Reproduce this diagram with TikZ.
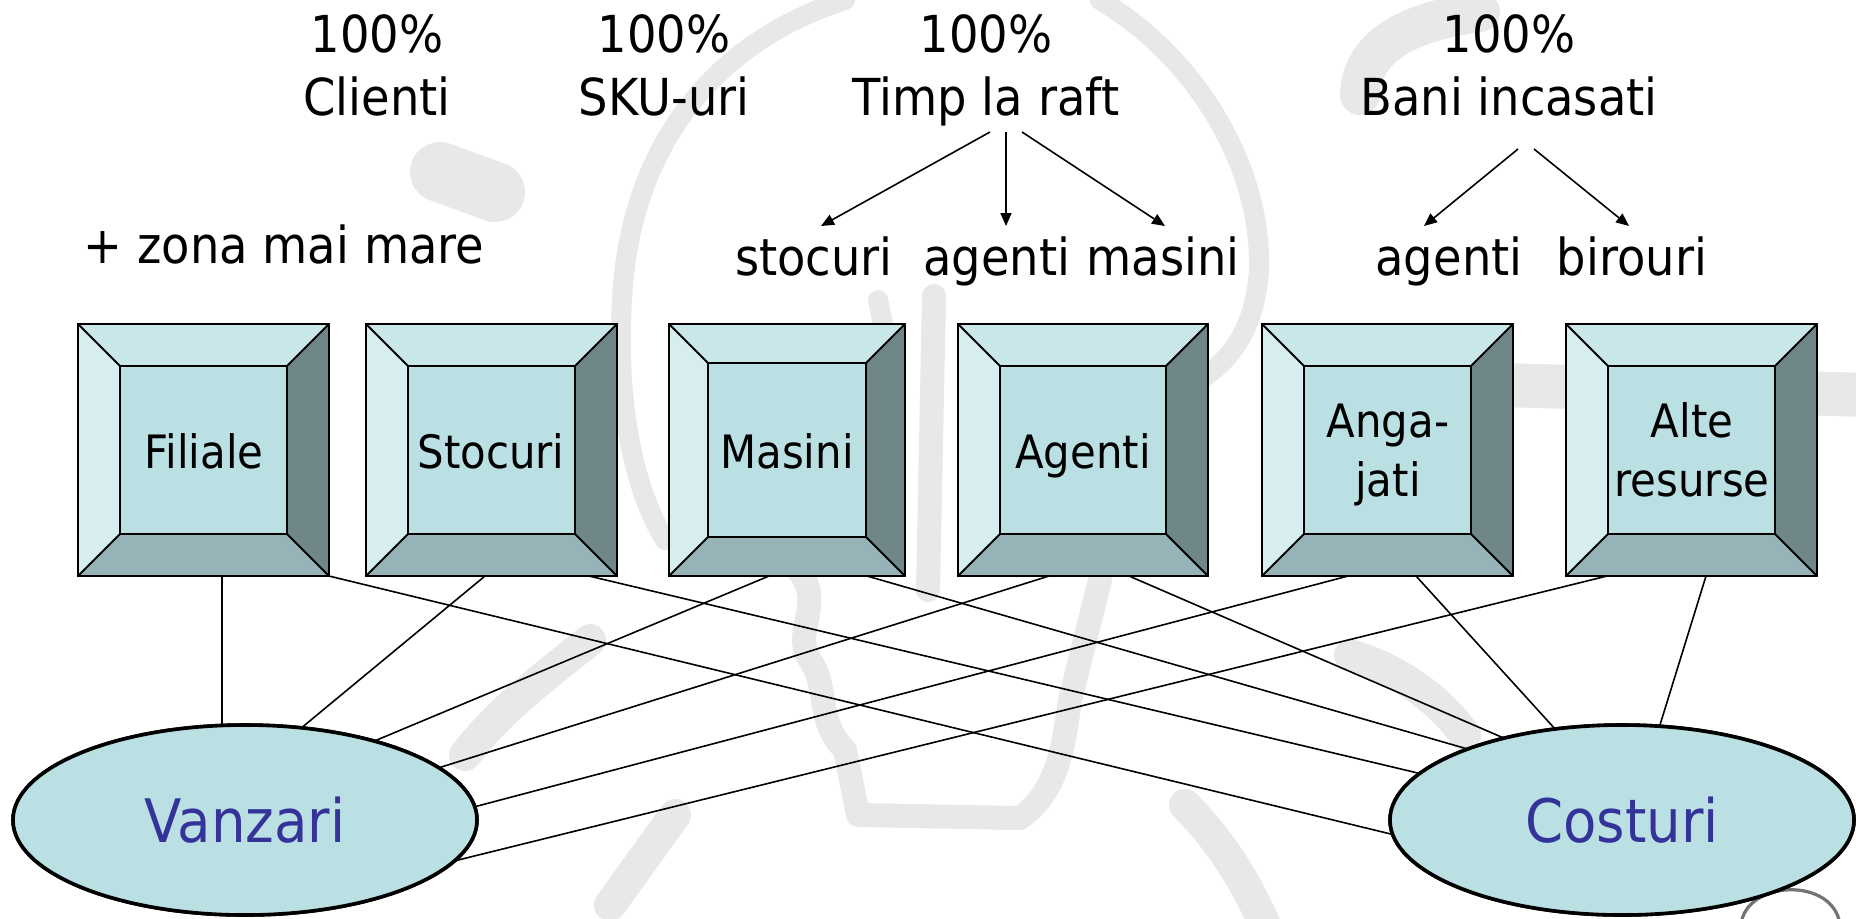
\documentclass[tikz,border=0pt]{standalone}
\usepackage{fontspec}
\setmainfont{DejaVu Sans}[FakeStretch=0.91]
\usetikzlibrary{arrows.meta,calc,shapes.geometric}

\definecolor{bvTop}{HTML}{C9E6E9}
\definecolor{bvLeft}{HTML}{D8EDF0}
\definecolor{bvFace}{HTML}{BAE0E3}
\definecolor{bvBottom}{HTML}{96B4B7}
\definecolor{bvRight}{HTML}{708789}
\definecolor{ovalText}{HTML}{333399}
\definecolor{sketch}{HTML}{E8E8E8}

% bevelled button: #1 name, #2 left x, #3 right x, #4 bevel depth (top 324, bottom 576)
\newcommand\bevelbox[4]{%
  \fill[bvTop] (#2,324) -- (#3,324) -- ({#3-#4},{324+#4}) -- ({#2+#4},{324+#4}) -- cycle;
  \fill[bvLeft] (#2,324) -- ({#2+#4},{324+#4}) -- ({#2+#4},{576-#4}) -- (#2,576) -- cycle;
  \fill[bvRight] (#3,324) -- (#3,576) -- ({#3-#4},{576-#4}) -- ({#3-#4},{324+#4}) -- cycle;
  \fill[bvBottom] (#2,576) -- (#3,576) -- ({#3-#4},{576-#4}) -- ({#2+#4},{576-#4}) -- cycle;
  \fill[bvFace] ({#2+#4},{324+#4}) rectangle ({#3-#4},{576-#4});
  \draw[bevelline] ({#2+#4},{324+#4}) rectangle ({#3-#4},{576-#4});
  \draw[bevelline] (#2,324) -- ({#2+#4},{324+#4}) (#3,324) -- ({#3-#4},{324+#4})
                   (#2,576) -- ({#2+#4},{576-#4}) (#3,576) -- ({#3-#4},{576-#4});
  \draw[bevelline] (#2,324) rectangle (#3,576);
  \node[rectangle, minimum width={(#3-#2)*0.5pt}, minimum height=126pt] (#1) at ({(#2+#3)/2},450) {};
}

\begin{document}
\begin{tikzpicture}[x=0.5pt,y=-0.5pt,
  every node/.style={inner sep=0pt, outer sep=0pt},
  toptext/.style={font=\fontsize{25.5}{31.5}\selectfont, align=center, anchor=north},
  word/.style={font=\fontsize{25.5}{31.5}\selectfont, anchor=base},
  boxtext/.style={font=\fontsize{23}{29.5}\selectfont, align=center},
  oval/.style={ellipse, draw=black, line width=1.8pt, fill=bvFace,
    minimum width=232pt, minimum height=95pt,
    font=\fontsize{30}{36}\selectfont, text=ovalText},
  bevelline/.style={draw=black, line width=1pt, line join=miter},
  link/.style={line width=0.8pt},
  pointer/.style={line width=0.8pt, -{Triangle[length=6.5pt,width=5.5pt]}},
  sketchline/.style={draw=sketch, line cap=round, line join=round, line width=10pt}
]
\fill[white] (0,0) rectangle (1856,918);
\useasboundingbox (0,0) rectangle (1856,918);

% faint background sketch
\draw[sketchline] (845,0) .. controls (720,40) and (630,140) .. (622,300) .. controls (615,420) and (640,500) .. (665,540);
\draw[sketchline] (1100,0) .. controls (1200,60) and (1262,170) .. (1259,270) .. controls (1255,330) and (1230,360) .. (1200,380);
\draw[sketchline, line width=30pt] (440,172) -- (495,192);
\draw[sketchline, line width=20pt] (1480,12) .. controls (1420,20) and (1362,40) .. (1360,95);
\draw[sketchline, line width=10pt] (878,300) -- (884,330);
\draw[sketchline, line width=12pt] (934,296) -- (928,590);
\draw[sketchline, line width=12pt] (793,565) .. controls (830,600) and (790,630) .. (810,660)
  .. controls (830,690) and (815,720) .. (845,750) -- (858,815) -- (1020,818)
  .. controls (1060,790) and (1064,740) .. (1070,700) -- (1100,580);
\draw[sketchline, line width=16pt] (590,640) .. controls (540,680) and (500,710) .. (465,755);
\draw[sketchline, line width=16pt] (675,815) -- (610,905);
\draw[sketchline, line width=16pt] (1350,655) .. controls (1400,670) and (1440,700) .. (1465,735);
\draw[sketchline, line width=16pt] (1185,805) .. controls (1220,840) and (1245,880) .. (1265,925);
\draw[sketchline, line width=22pt] (1500,385) -- (1870,395);
\draw[line width=1.6pt, black!55, line cap=round] (1741,925) .. controls (1745,880) and (1834,876) .. (1840,925);

% headings
\node[toptext] (cli) at (377,15) {100\%\\Clienti};
\node[toptext] (sku) at (664,15) {100\%\\SKU-uri};
\node[toptext] (timp) at (986,15) {100\%\\Timp la raft};
\node[toptext] (bani) at (1509,15) {100\%\\Bani incasati};

\node[word] (zona) at (284,263) {+ zona mai mare};
\node[word] (stoc) at (814,275) {stocuri};
\node[word] (agm) at (997,275) {agenti};
\node[word] (mas) at (1163,275) {masini};
\node[word] (agb) at (1449,275) {agenti};
\node[word] (bir) at (1632,275) {birouri};

% arrows from the headings
\coordinate (timpA) at (990,132);
\coordinate (timpB) at (1006,132);
\coordinate (timpC) at (1022,132);
\coordinate (baniA) at (1518,149);
\coordinate (baniB) at (1534,149);
\coordinate (stocTip) at (821,226);
\coordinate (agmTip) at (1006,226);
\coordinate (masTip) at (1165,226);
\coordinate (agbTip) at (1424,226);
\coordinate (birTip) at (1629,226);
\draw[pointer] (timpA) -- (stocTip);
\draw[pointer] (timpB) -- (agmTip);
\draw[pointer] (timpC) -- (masTip);
\draw[pointer] (baniA) -- (agbTip);
\draw[pointer] (baniB) -- (birTip);

% resource buttons
\bevelbox{fil}{78}{329}{42}
\bevelbox{sto}{366}{617}{42}
\bevelbox{msn}{669}{905}{39}
\bevelbox{agt}{958}{1208}{42}
\bevelbox{ang}{1262}{1513}{42}
\bevelbox{alt}{1566}{1817}{42}

\node[boxtext, anchor=base] (filT) at (204,468) {Filiale};
\node[boxtext, anchor=base] (stoT) at (491,468) {Stocuri};
\node[boxtext, anchor=base] (msnT) at (787,468) {Masini};
\node[boxtext, anchor=base] (agtT) at (1083,468) {Agenti};
\node[boxtext, anchor=north] (angT) at (1388,404) {Anga-\\jati};
\node[boxtext, anchor=north] (altT) at (1692,403) {Alte\\resurse};

% links to the two outcomes
\node[oval] (vz) at (245,820) {};
\node[oval] (cs) at (1622,820) {};

\draw[link] ($(fil.south west)+(144,0)$) -- ($(vz.center)+(-23,-93)$);
\draw[link] ($(sto.south west)+(119,0)$) -- ($(vz.center)+(55,-91)$);
\draw[link] ($(msn.south west)+(100,0)$) -- ($(vz.center)+(127,-78)$);
\draw[link] ($(agt.south west)+(91,0)$) -- ($(vz.center)+(190,-51)$);
\draw[link] ($(ang.south west)+(86,0)$) -- ($(vz.center)+(225,-12)$);
\draw[link] ($(alt.south west)+(41,0)$) -- ($(vz.center)+(205,42)$);

\draw[link] ($(fil.south west)+(251,0)$) -- ($(cs.center)+(-223,16)$);
\draw[link] ($(sto.south west)+(223,0)$) -- ($(cs.center)+(-200,-46)$);
\draw[link] ($(msn.south west)+(198,0)$) -- ($(cs.center)+(-151,-70)$);
\draw[link] ($(agt.south west)+(171,0)$) -- ($(cs.center)+(-116,-81)$);
\draw[link] ($(ang.south west)+(154,0)$) -- ($(cs.center)+(-66,-90)$);
\draw[link] ($(alt.south west)+(140,0)$) -- ($(cs.center)+(37,-92)$);

\node[oval] (vanzari) at (vz) {Vanzari};
\node[oval] (costuri) at (cs) {Costuri};
\end{tikzpicture}
\end{document}
